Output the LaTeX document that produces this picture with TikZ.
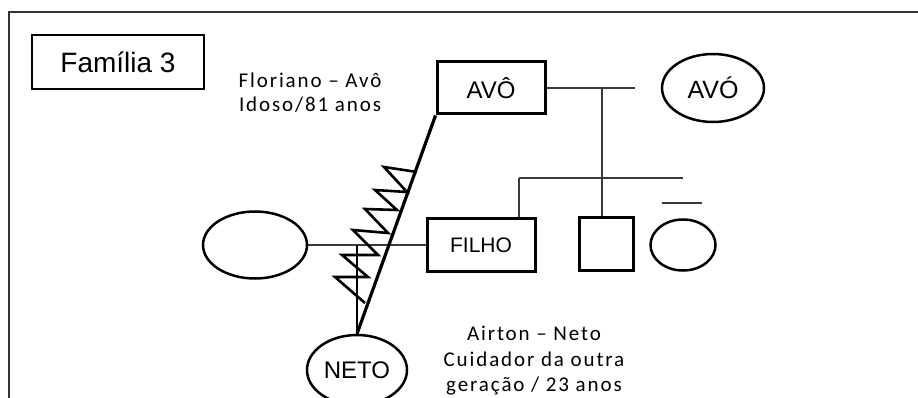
\documentclass[tikz,border=0pt]{standalone}
\usepackage{fontspec}
\setmainfont{Liberation Sans}
\newfontfamily\calib[LetterSpace=9]{Carlito}
\usetikzlibrary{shapes.geometric}
\definecolor{lin}{HTML}{3A3A3A}
\tikzset{
  thickbox/.style={draw=black, line width=3pt, rectangle, inner sep=0pt},
  thinbox/.style={draw=black, line width=1.3pt, rectangle, inner sep=0pt},
  oval/.style={draw=black, line width=2.5pt, ellipse, inner sep=0pt},
  link/.style={draw=lin, line width=1.8pt},
  heavy/.style={draw=black, line width=3.2pt},
  zig/.style={draw=black, line width=2.6pt, line join=miter},
  note/.style={font=\calib\fontsize{21}{24}\selectfont, align=center, text=black},
  note3/.style={font=\calib\fontsize{21}{25.5}\selectfont, align=center, text=black},
}
\begin{document}
\begin{tikzpicture}[x=1pt,y=-1pt]
\useasboundingbox (0,0) rectangle (918,398);
\clip (0,0) rectangle (918,398);
\fill[white] (0,0) rectangle (918,398);
% frame
\coordinate (fbl) at (9,400);
\coordinate (ftl) at (9,12);
\coordinate (ftr) at (920,12);
\draw[draw=black!80, line width=2pt] (fbl) -- (ftl) -- (ftr);
% title
\node[thinbox, minimum width=172pt, minimum height=54pt, font=\fontsize{28}{30}\selectfont] (fam) at (118,62) {Família 3};
% nodes
\node[thickbox, minimum width=108pt, minimum height=52pt, font=\fontsize{24}{26}\selectfont] (avo) at (491,88) {AVÔ};
\node[oval, minimum width=102pt, minimum height=68pt, font=\fontsize{25}{27}\selectfont] (avoo) at (713,88) {AVÓ};
\node[thickbox, minimum width=108pt, minimum height=52pt, font=\fontsize{21}{23}\selectfont] (filho) at (481,245) {FILHO};
\node[thickbox, minimum width=54pt, minimum height=52pt] (sq) at (606,244) {};
\node[oval, minimum width=65pt, minimum height=51pt] (fem) at (683,245) {};
\node[oval, minimum width=104pt, minimum height=67pt] (wife) at (255,245) {};
\node[oval, minimum width=100pt, minimum height=70pt, font=\fontsize{24}{26}\selectfont] (neto) at (357,370) {NETO};
% labels
\node[note] (flor) at (310,93) {Floriano – Avô\\Idoso/81 anos};
\node[note3] (airt) at (534,361) {Airton – Neto\\Cuidador da outra\\geração / 23 anos};
% connectors
\coordinate (aend) at (635,88);
\coordinate (j1) at (602,88);
\coordinate (sl) at (519,178);
\coordinate (sr) at (683,178);
\coordinate (bl) at (662,203);
\coordinate (br) at (702,203);
\coordinate (dj) at (357,245);
\draw[link] (avo.east) -- (aend);
\draw[link] (j1) -- (j1 |- sq.north);
\draw[link] (sl) -- (sr);
\draw[link] (sl) -- (sl |- filho.north);
\draw[link] (bl) -- (br);
\draw[link] (wife.east) -- (filho.west);
\draw[draw=black, line width=1.5pt] (dj) -- (dj |- neto.north);
\draw[heavy] (avo.south west) -- (neto.north);
% zigzag (conflict)
\draw[zig] (417,172) -- (384,167) -- (407,192) -- (375,190) -- (397,210) -- (365,209)
  -- (388,233) -- (353,230) -- (378,255) -- (342,255) -- (368,277) -- (335,277) -- (365,303);
\end{tikzpicture}
\end{document}
